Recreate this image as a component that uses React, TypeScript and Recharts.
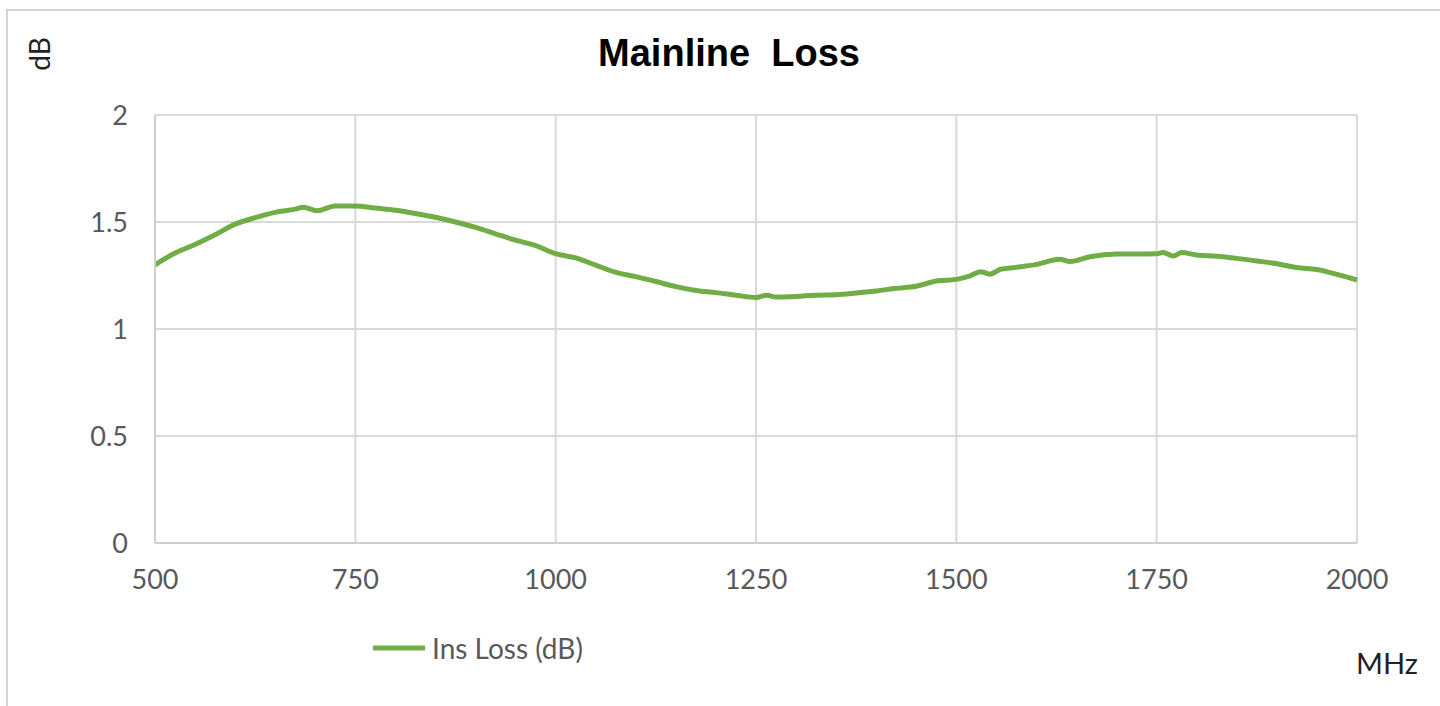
import React from 'react';
import {
  LineChart,
  Line,
  XAxis,
  YAxis,
  CartesianGrid,
  Legend,
} from 'recharts';

// values
const freqMHz = [
  500, 525, 550, 575, 600, 625, 650, 675, 685, 702, 725, 750, 775, 800, 825,
  850, 875, 900, 925, 950, 975, 1000, 1025, 1050, 1075, 1100, 1125, 1150, 1175,
  1200, 1225, 1250, 1263, 1275, 1300, 1325, 1350, 1375, 1400, 1425, 1450, 1475,
  1500, 1517, 1530, 1542, 1555, 1575, 1600, 1629, 1642, 1667, 1700, 1725, 1750,
  1758, 1771, 1781, 1800, 1825, 1850, 1875, 1900, 1925, 1950, 1975, 2000,
];

const insLossDb = [
  1.3, 1.355, 1.395, 1.44, 1.49, 1.52, 1.545, 1.56, 1.569, 1.553, 1.575, 1.575,
  1.565, 1.555, 1.54, 1.522, 1.5, 1.475, 1.445, 1.415, 1.39, 1.352, 1.332,
  1.298, 1.265, 1.245, 1.222, 1.198, 1.18, 1.17, 1.158, 1.147, 1.158, 1.149,
  1.152, 1.158, 1.16, 1.168, 1.178, 1.19, 1.2, 1.224, 1.232, 1.248, 1.268,
  1.256, 1.279, 1.288, 1.302, 1.326, 1.315, 1.338, 1.35, 1.35, 1.352, 1.358,
  1.341, 1.357, 1.346, 1.34, 1.33, 1.318, 1.305, 1.287, 1.278, 1.255, 1.229,
];

const xTicks = [500, 750, 1000, 1250, 1500, 1750, 2000];
const yTicks = [0, 0.5, 1, 1.5, 2];

const chartTitle = 'Mainline  Loss';
const seriesName = 'Ins Loss (dB)';
const yUnit = 'dB';
const xUnit = 'MHz';

const data = freqMHz.map((f, i) => ({ freq: f, loss: insLossDb[i] }));

const LINE_COLOR = '#70ad47';
const GRID_COLOR = '#d9d9d9';
const TICK_STYLE = { fontFamily: 'Lato', fontSize: 27, fill: '#595959' };

const LegendContent = () => (
  <div style={{ display: 'flex', alignItems: 'center', height: 32 }}>
    <svg width={54} height={10}>
      <line x1={1} y1={5} x2={53} y2={5} stroke={LINE_COLOR} strokeWidth={5} />
    </svg>
    <span
      style={{
        marginLeft: 6,
        fontFamily: 'Lato',
        fontSize: 28,
        color: '#595959',
        lineHeight: '32px',
      }}
    >
      {seriesName}
    </span>
  </div>
);

export default function App() {
  return (
    <div
      style={{
        position: 'fixed',
        left: 0,
        top: 0,
        width: 1440,
        height: 706,
        overflow: 'hidden',
        background: '#fff',
      }}
    >
      <div
        style={{
          position: 'absolute',
          left: 6,
          top: 9,
          width: 1460,
          height: 720,
          border: '2px solid #d4d4d4',
        }}
      />
      <div style={{ position: 'absolute', left: 0, top: 0 }}>
        {/* bottom margin leaves room for the 32px legend box */}
        <LineChart
          width={1440}
          height={706}
          data={data}
          margin={{ top: 115, right: 83, bottom: 81, left: 95 }}
        >
          <CartesianGrid stroke={GRID_COLOR} strokeWidth={2} />
          <XAxis
            dataKey="freq"
            type="number"
            domain={[500, 2000]}
            ticks={xTicks}
            height={50}
            tickLine={false}
            tickSize={0}
            tickMargin={27}
            axisLine={{ stroke: '#cfcfcf', strokeWidth: 2 }}
            tick={TICK_STYLE}
          />
          <YAxis
            type="number"
            domain={[0, 2]}
            ticks={yTicks}
            width={60}
            tickLine={false}
            tickSize={0}
            tickMargin={27}
            axisLine={{ stroke: '#cfcfcf', strokeWidth: 2 }}
            tick={TICK_STYLE}
          />
          <Legend
            content={<LegendContent />}
            wrapperStyle={{ position: 'absolute', left: 372, top: 632, width: 'auto' }}
          />
          <Line
            dataKey="loss"
            name={seriesName}
            type="monotone"
            stroke={LINE_COLOR}
            strokeWidth={5}
            dot={false}
            isAnimationActive={false}
          />
        </LineChart>
      </div>
      <svg
        width={1440}
        height={706}
        style={{ position: 'absolute', left: 0, top: 0, pointerEvents: 'none' }}
      >
        <text
          x={729}
          y={66}
          textAnchor="middle"
          fontFamily="Liberation Sans"
          fontWeight="bold"
          fontSize={38}
          fill="#000"
          style={{ whiteSpace: 'pre' }}
        >
          {chartTitle}
        </text>
        <text
          x={0}
          y={0}
          transform="translate(50,54) rotate(-90)"
          textAnchor="middle"
          fontFamily="Lato"
          fontSize={28}
          fill="#222"
        >
          {yUnit}
        </text>
        <text x={1356} y={674} fontFamily="Lato" fontSize={29} fill="#222">
          {xUnit}
        </text>
      </svg>
    </div>
  );
}
